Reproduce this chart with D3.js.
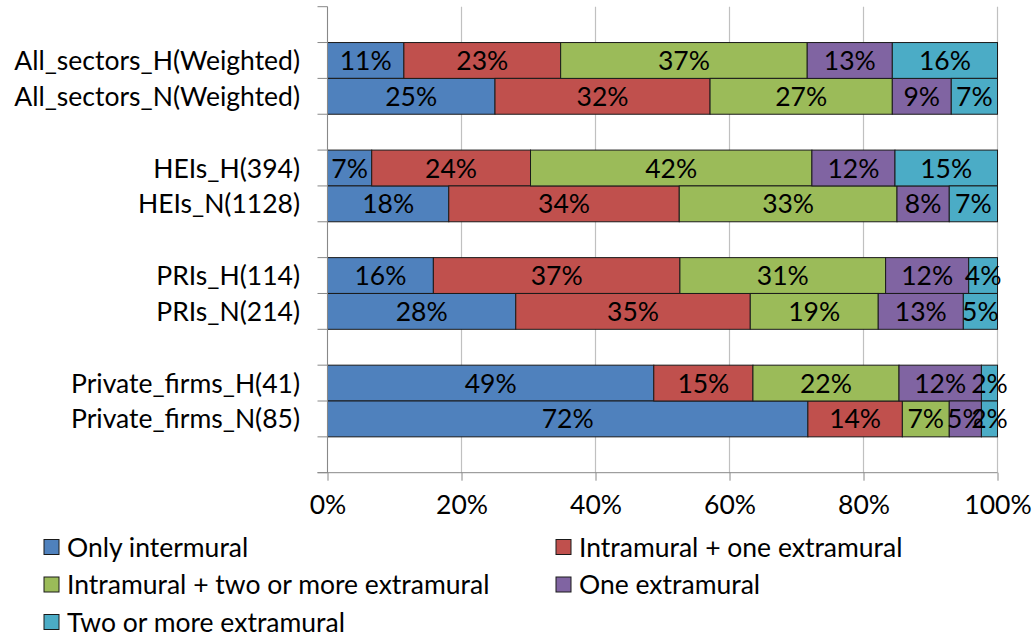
<!DOCTYPE html>
<html><head><meta charset="utf-8">
<script src="https://cdn.jsdelivr.net/npm/d3@7"></script>
<style>body{margin:0;background:#fff;} svg{display:block;} text{font-family:Lato, "Open Sans", sans-serif;}</style>
</head><body>
<svg id="c" width="1032" height="638"></svg>
<script>
const categories = ["", "All_sectors_H(Weighted)", "All_sectors_N(Weighted)", " 1", "HEIs_H(394)", "HEIs_N(1128)", " 2", "PRIs_H(114)", "PRIs_N(214)", " 3", "Private_firms_H(41)", "Private_firms_N(85)", " 4"];
const seriesNames = ["Only intermural", "Intramural + one extramural", "Intramural + two or more extramural", "One extramural", "Two or more extramural"];
const colors = ["#4F81BD", "#C0504D", "#9BBB59", "#8064A2", "#4BACC6"];
const onlyIntermural = [null, 11.4, 25.0, null, 6.6, 18.1, null, 15.8, 28.1, null, 48.7, 71.7, null];
const intraOne       = [null, 23.4, 32.1, null, 23.7, 34.4, null, 36.8, 35.0, null, 14.8, 14.1, null];
const intraTwo       = [null, 36.8, 27.2, null, 42.0, 32.5, null, 30.7, 19.1, null, 21.8, 7.0, null];
const oneExtra       = [null, 12.7, 8.8, null, 12.4, 7.8, null, 12.4, 12.7, null, 12.3, 4.8, null];
const twoExtra       = [null, 15.7, 6.9, null, 15.3, 7.2, null, 4.3, 5.1, null, 2.4, 2.4, null];
const xTicks = [0, 20, 40, 60, 80, 100];

const FS = 26.5;
const seriesValues = [onlyIntermural, intraOne, intraTwo, oneExtra, twoExtra];
const svg = d3.select("#c");
const x = d3.scaleLinear().domain([0, 100]).range([327.5, 997.5]);
const y = d3.scaleBand().domain(categories).range([6.7, 472.7]).padding(0);

// gridlines
svg.append("g").selectAll("line").data(xTicks).join("line")
  .attr("x1", d => x(d)).attr("x2", d => x(d)).attr("y1", 6.7).attr("y2", 472.7)
  .attr("stroke", "#c0c0c0").attr("stroke-width", 1.2);

const rows = categories.map((c, i) => {
  const o = {cat: c};
  seriesNames.forEach((s, j) => o[s] = seriesValues[j][i] || 0);
  return o;
});
const stack = d3.stack().keys(seriesNames)(rows);

const barG = svg.append("g");
stack.forEach((layer, j) => {
  const g = barG.append("g");
  layer.forEach((d, i) => {
    const v = seriesValues[j][i];
    if (v == null) return;
    g.append("rect")
      .attr("x", x(d[0])).attr("width", x(d[1]) - x(d[0]))
      .attr("y", y(categories[i])).attr("height", y.bandwidth())
      .attr("fill", colors[j]).attr("stroke", "#1a1a1a").attr("stroke-width", 1);
  });
});
stack.forEach((layer, j) => {
  layer.forEach((d, i) => {
    const v = seriesValues[j][i];
    if (v == null) return;
    barG.append("text")
      .attr("x", (x(d[0]) + x(d[1])) / 2)
      .attr("y", y(categories[i]) + y.bandwidth() / 2)
      .attr("dy", "0.36em").attr("text-anchor", "middle")
      .attr("font-size", FS).attr("fill", "#000")
      .text(Math.round(v) + "%");
  });
});

// left axis
const yg = svg.append("g").attr("transform", `translate(${x(0)},0)`);
yg.append("line").attr("x1", 0).attr("x2", 0).attr("y1", 6.7).attr("y2", 472.7).attr("stroke", "#888");
const bounds = categories.map(c => y(c)).concat([472.7]);
yg.selectAll("line.tk").data(bounds).join("line").attr("class", "tk")
  .attr("x1", -10).attr("x2", 0).attr("y1", d => d).attr("y2", d => d).attr("stroke", "#888");
const ylab = svg.append("g").attr("transform", `translate(300,0)`);
ylab.selectAll("text").data(categories.filter(c => !/^( \d)?$/.test(c))).join("text")
  .attr("x", 0).attr("y", d => y(d) + y.bandwidth() / 2).attr("dy", "0.36em")
  .attr("text-anchor", "end").attr("font-size", FS).attr("fill", "#000").text(d => d);

// bottom axis
const xAxis = d3.axisBottom(x).tickValues(xTicks).tickFormat(d => d + "%").tickSize(8).tickPadding(14);
const xg = svg.append("g").attr("transform", "translate(0,472.7)").call(xAxis);
xg.select(".domain").attr("stroke", "#888").attr("d", `M${x(0)-10},0H${x(100)}`);
xg.selectAll(".tick line").attr("stroke", "#888");
xg.selectAll(".tick text").attr("font-size", FS).attr("fill", "#000").attr("font-family", "Lato, sans-serif");

// legend
const legPos = [[44, 547], [556, 547], [44, 584.5], [556, 584.5], [44, 622]];
const lg = svg.append("g");
seriesNames.forEach((s, j) => {
  const [lx, ly] = legPos[j];
  lg.append("rect").attr("x", lx).attr("y", ly - 7.5).attr("width", 15).attr("height", 15)
    .attr("fill", colors[j]).attr("stroke", "#1a1a1a").attr("stroke-width", 1);
  lg.append("text").attr("x", lx + 23).attr("y", ly).attr("dy", "0.36em")
    .attr("font-size", FS).attr("fill", "#000").text(s);
});
</script>
</body></html>
